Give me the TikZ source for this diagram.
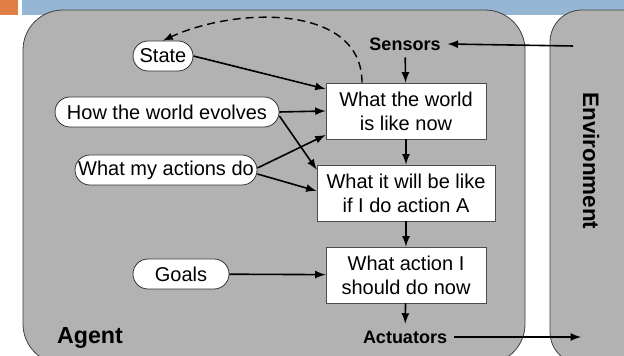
\documentclass[tikz,border=0pt]{standalone}
\usepackage{fontspec}
\setmainfont{Liberation Sans}
\usepackage{tikz}
\usetikzlibrary{arrows,positioning}
\definecolor{agentgray}{RGB}{178,178,178}
\definecolor{barblue}{RGB}{149,183,212}
\definecolor{tagorange}{RGB}{224,126,70}

\begin{document}
\begin{tikzpicture}
[x=0.5pt,y=-0.5pt,>=latex,
 pill/.style={draw=black!80,fill=white,rounded corners=7.5pt,minimum
    height=15pt,inner sep=1pt,font=\fontsize{10}{12}\selectfont},
 box/.style={draw=black!70,fill=white,minimum height=28pt,inner
    sep=1pt,align=center,font=\fontsize{10}{12}\selectfont},
 io/.style={font=\bfseries\fontsize{9}{11}\selectfont},
 wire/.style={->,line width=0.8pt}]
\clip (0,0) rectangle (624,356);
\fill [tagorange] (0,0) rectangle (18,15);
\fill [barblue] (22,0) rectangle (624,15);
\draw [draw=black!75,fill=agentgray,line width=0.4pt,rounded corners=20pt]
  (23,10) rectangle (525,364);
\draw [draw=black!75,fill=agentgray,line width=0.4pt,rounded corners=16pt]
  (550,10) rectangle (690,364);

\node (agent) at (90,338) {\bfseries\fontsize{11.6}{13}\selectfont Agent};
\node[rotate=-90] (env) at (591,161)
{\bfseries\fontsize{11.2}{13}\selectfont Environment};

\node[pill,minimum width=30pt] (state) at (163,56) {State};
\node[pill,minimum width=112pt] (evolves) at (167,112) {How the world evolves};
\node[pill,minimum width=91pt] (actions) at (166,170) {What my actions do};
\node[pill,minimum width=48pt] (goals) at (181,274) {Goals};

\node[io] (sensors) at (405,44) {Sensors};
\node[box,minimum width=80pt] (now) at (406,111) {What the world\\is like now};
\node[box,minimum width=89pt] (future) at (406,193) {What it will be like\\if I do action A};
\node[box,minimum width=80pt] (decide) at (406,275) {What action I\\should do now};
\node[io] (actuators) at (405,337) {Actuators};

\coordinate (envin) at (573,46);
\coordinate (envout) at (581,337);

\draw [wire] (envin) -- (sensors.east);
\draw [wire] (sensors) -- (now);
\draw [wire] (now) -- (future);
\draw [wire] (future) -- (decide);
\draw [wire] (decide) -- (actuators);
\draw [wire] (actuators.east) -- (envout);

\draw [wire] (state.east) -- ([yshift=11pt]now.west);
\draw [wire] (evolves.east) -- (now.west);
\draw [wire] ([yshift=-2pt]evolves.east) -- ([yshift=-2.5pt]future.north west);
\draw [wire] ([yshift=1pt]actions.east) -- ([yshift=-12pt]now.west);
\draw [wire] ([yshift=-2pt]actions.east) -- ([yshift=1pt]future.west);
\draw [wire] (goals) -- (decide);

\draw [->,line width=0.7pt,dash pattern=on 4pt off 2.5pt]
  ([xshift=-22pt]now.north) to[out=90,in=25] (state.north);
\end{tikzpicture}
\end{document}
